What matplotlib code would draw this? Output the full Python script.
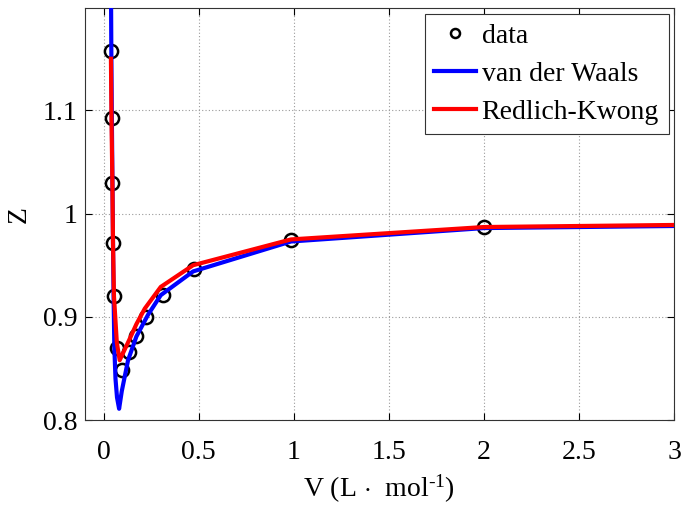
import matplotlib
matplotlib.use("Agg")
import matplotlib.pyplot as plt

# Measured compressibility factor
V_data = [0.038, 0.041, 0.046, 0.049, 0.054, 0.069, 0.095, 0.135, 0.172, 0.225, 0.310, 0.475, 0.985, 2.0]
Z_data = [1.157, 1.093, 1.030, 0.972, 0.920, 0.870, 0.849, 0.866, 0.881, 0.900, 0.921, 0.946, 0.974, 0.987]

# van der Waals model
V_vdw = [0.036, 0.040, 0.043, 0.046, 0.049, 0.052, 0.056, 0.062, 0.070, 0.081, 0.095,
         0.128, 0.172, 0.233, 0.300, 0.470, 0.985, 2.0, 3.0]
Z_vdw = [1.300, 1.160, 1.090, 1.030, 0.970, 0.920, 0.870, 0.840, 0.822, 0.811, 0.828,
         0.858, 0.881, 0.902, 0.921, 0.944, 0.973, 0.986, 0.988]

# Redlich-Kwong model
V_rk = [0.038, 0.041, 0.046, 0.049, 0.054, 0.069, 0.084, 0.135, 0.172, 0.216, 0.300, 0.470, 0.985, 2.0, 3.0]
Z_rk = [1.150, 1.090, 1.025, 0.970, 0.920, 0.875, 0.858, 0.878, 0.893, 0.908, 0.929, 0.950, 0.975, 0.987, 0.989]

x_ticks = [0, 0.5, 1, 1.5, 2, 2.5, 3]
x_labels = ["0", "0.5", "1", "1.5", "2", "2.5", "3"]
y_ticks = [0.8, 0.9, 1.0, 1.1]
y_labels = ["0.8", "0.9", "1", "1.1"]

plt.rcParams["font.family"] = ["Liberation Serif", "DejaVu Serif"]
plt.rcParams["mathtext.fontset"] = "custom"
plt.rcParams["mathtext.rm"] = "Liberation Serif"
plt.rcParams["mathtext.it"] = "Liberation Serif:italic"

fs = 20

fig = plt.figure(figsize=(6.83, 5.08), dpi=100)
ax = fig.add_axes([0.124, 0.173, 0.863, 0.811])

ax.plot(V_data, Z_data, "o", mfc="none", mec="black", mew=1.8, ms=9.5, label="data", zorder=3)
ax.plot(V_vdw, Z_vdw, "-", color="#0000ff", lw=3.0, label="van der Waals", zorder=4)
ax.plot(V_rk, Z_rk, "-", color="#ff0000", lw=3.0, label="Redlich-Kwong", zorder=5)

ax.set_xlim(-0.1, 3.0)
ax.set_ylim(0.8, 1.199)
ax.set_xticks(x_ticks)
ax.set_xticklabels(x_labels)
ax.set_yticks(y_ticks)
ax.set_yticklabels(y_labels)
ax.tick_params(direction="in", top=True, right=True, labelsize=fs, length=5, width=0.8)
ax.tick_params(axis="x", pad=14)
ax.tick_params(axis="y", pad=5)
ax.grid(True, linestyle=(0, (1, 2)), color="#9a9a9a", linewidth=0.8)
for s in ax.spines.values():
    s.set_linewidth(0.8)
    s.set_color("#333333")

ax.set_xlabel(r"V (L $\cdot$  mol$^{\text{-1}}$)", fontsize=fs, labelpad=6)
ax.set_ylabel("Z", fontsize=fs, labelpad=8)

leg = ax.legend(loc="upper right", fontsize=fs, frameon=True, fancybox=False,
                edgecolor="#333333", framealpha=1, handlelength=1.5, handletextpad=0.2,
                borderpad=0.35, labelspacing=0.45, borderaxespad=0.2)
leg.get_frame().set_linewidth(0.8)
leg.legend_handles[0].set_markersize(6.5)

fig.savefig("out.png", dpi=100)
